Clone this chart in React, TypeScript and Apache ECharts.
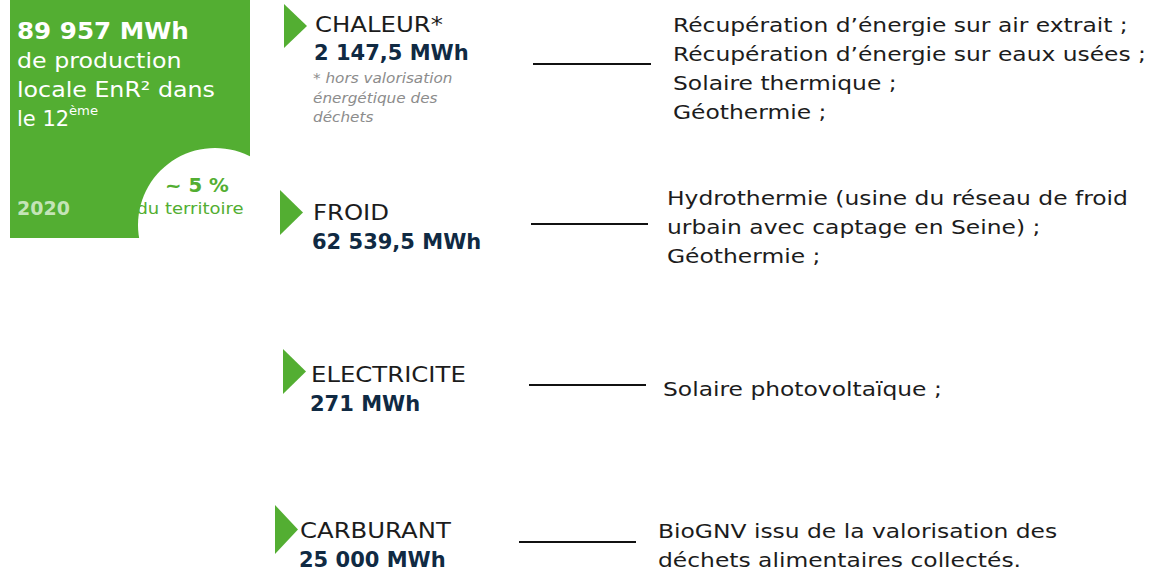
import React, { useEffect, useRef } from "react";
import * as echarts from "echarts";

// ---- data ----
const totalValue = "89 957 MWh";
const totalLines = ["de production", "locale EnR² dans", "le 12"];
const totalSup = "ème";
const year = "2020";
const shareValue = "~ 5 %";
const shareLabel = "du territoire";
const categories = ["CHALEUR*", "FROID", "ELECTRICITE", "CARBURANT"];
const values = ["2 147,5 MWh", "62 539,5 MWh", "271 MWh", "25 000 MWh"];
const footnote = ["* hors valorisation", "énergétique des", "déchets"];
const descriptions = [
  [
    "Récupération d’énergie sur air extrait ;",
    "Récupération d’énergie sur eaux usées ;",
    "Solaire thermique ;",
    "Géothermie ;",
  ],
  [
    "Hydrothermie (usine du réseau de froid",
    "urbain avec captage en Seine) ;",
    "Géothermie ;",
  ],
  ["Solaire photovoltaïque ;"],
  ["BioGNV issu de la valorisation des", "déchets alimentaires collectés."],
];

// ---- layout (positions only) ----
const rowLayout = [
  { triX: 284, triY: 4, triH: 44, labX: 315, labY: 25, valY: 53, lineX1: 533, lineX2: 651, lineY: 64, descX: 673, descY: 25 },
  { triX: 280, triY: 190, triH: 45, labX: 313, labY: 213, valY: 242, lineX1: 531, lineX2: 648, lineY: 224, descX: 667, descY: 198 },
  { triX: 283, triY: 349, triH: 45, labX: 311, labY: 375, valY: 404, lineX1: 529, lineX2: 646, lineY: 385, descX: 663, descY: 389 },
  { triX: 275, triY: 505, triH: 49, labX: 300, labY: 531, valY: 560, lineX1: 519, lineX2: 636, lineY: 542, descX: 658, descY: 531 },
];

const GREEN = "#53ae32";
const NAVY = "#102a43";
const DARK = "#1c1c1c";
const FONT = "DejaVu Sans";

function txt(x: number, y: number, text: string, opts: any = {}) {
  return {
    type: "text",
    x,
    y,
    scaleX: opts.scaleX || 1,
    style: {
      text,
      fill: opts.fill || DARK,
      fontSize: opts.fontSize || 20,
      fontFamily: FONT,
      fontWeight: opts.fontWeight || "normal",
      fontStyle: opts.fontStyle || "normal",
      align: opts.align || "left",
      verticalAlign: "middle",
      opacity: opts.opacity == null ? 1 : opts.opacity,
    },
  };
}

export default function App() {
  const ref = useRef<HTMLDivElement>(null);
  useEffect(() => {
    if (!ref.current) return;
    const chart = echarts.init(ref.current, undefined, { renderer: "svg" });
    const elements: any[] = [];
    // Green box
    elements.push({ type: "rect", shape: { x: 10, y: 0, width: 240, height: 238 }, style: { fill: GREEN } });
    elements.push({ type: "circle", shape: { cx: 215, cy: 225, r: 77 }, style: { fill: "#ffffff" } });
    elements.push(txt(17, 31, totalValue, { fill: "#ffffff", fontSize: 23, fontWeight: "bold", scaleX: 1.07 }));
    totalLines.forEach((l, i) => {
      elements.push(txt(17, 61 + i * 29, l, { fill: "#ffffff", fontSize: 21, scaleX: i === 2 ? 1 : 1.13 }));
    });
    elements.push(txt(69, 111, totalSup, { fill: "#ffffff", fontSize: 12, scaleX: 1.1 }));
    elements.push(txt(17, 208, year, { fill: "#d9eed0", fontSize: 19, fontWeight: "bold", opacity: 0.85 }));
    elements.push(txt(197, 186, shareValue, { fill: GREEN, fontSize: 19, fontWeight: "bold", align: "center", scaleX: 1.04 }));
    elements.push(txt(190, 209, shareLabel, { fill: GREEN, fontSize: 15, align: "center", scaleX: 1.2 }));

    categories.forEach((cat, i) => {
      const L = rowLayout[i];
      elements.push({
        type: "polygon",
        shape: { points: [[L.triX, L.triY], [L.triX + 23, L.triY + L.triH / 2], [L.triX, L.triY + L.triH]] },
        style: { fill: GREEN },
      });
      elements.push(txt(L.labX, L.labY, cat, { fontSize: 21, fill: DARK, scaleX: 1.16 }));
      elements.push(txt(L.labX - 1, L.valY, values[i], { fontSize: 21, fontWeight: "bold", fill: NAVY, scaleX: 1.0 }));
      elements.push({
        type: "line",
        shape: { x1: L.lineX1, y1: L.lineY, x2: L.lineX2, y2: L.lineY },
        style: { stroke: "#111111", lineWidth: 2 },
      });
      descriptions[i].forEach((d, j) => {
        elements.push(txt(L.descX, L.descY + j * 29, d, { fontSize: 20, fill: DARK, scaleX: 1.17 }));
      });
      if (i === 0) {
        footnote.forEach((f, j) => {
          elements.push(txt(313, 78 + j * 19.5, f, { fontSize: 14, fill: "#8c8c8c", fontStyle: "italic", scaleX: 1.09 }));
        });
      }
    });

    chart.setOption({ animation: false, backgroundColor: "#ffffff", graphic: { elements } });
    return () => chart.dispose();
  }, []);
  return <div ref={ref} style={{ position: "fixed", left: 0, top: 0, width: 1154, height: 574 }} />;
}
